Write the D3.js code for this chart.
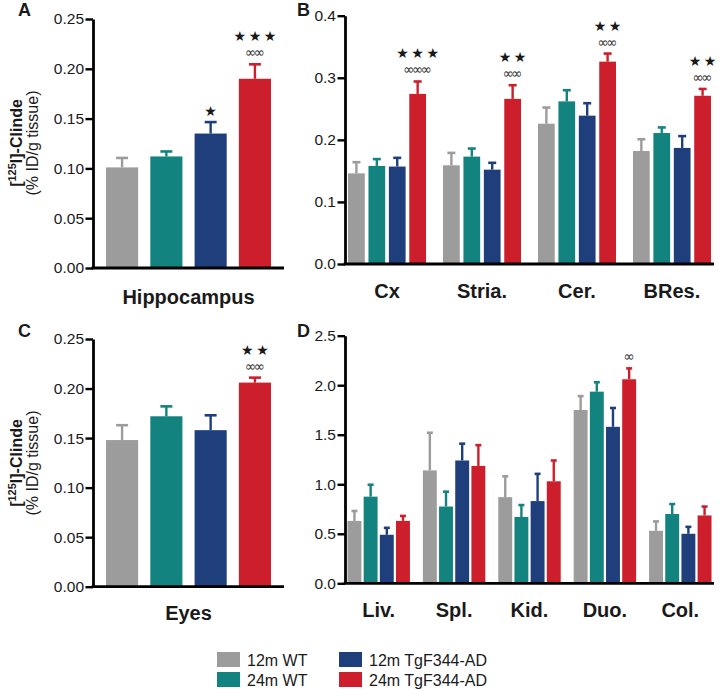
<!DOCTYPE html>
<html><head><meta charset="utf-8">
<script src="https://cdn.jsdelivr.net/npm/d3@7"></script>
<style>
html,body{margin:0;padding:0;background:#fff;}
svg{display:block;font-family:"Liberation Sans",Arial,Helvetica,sans-serif;}
</style></head>
<body>
<svg id="chart" width="719" height="689"></svg>
<script>
// ---------- DATA ----------
const series = ["12m WT", "24m WT", "12m TgF344-AD", "24m TgF344-AD"];
const seriesColors = ["#9c9c9c", "#13837f", "#1f3f7c", "#cc1f2b"];

// Panel A – Hippocampus
const hippoGroups = ["Hippocampus"];
const hippoMean = [[0.101], [0.112], [0.135], [0.190]];
const hippoErr  = [[0.0095], [0.005], [0.0115], [0.0145]];
const hippoTicks = [0, 0.05, 0.10, 0.15, 0.20, 0.25];

// Panel B – brain regions
const brainGroups = ["Cx", "Stria.", "Cer.", "BRes."];
const brainMean = [
  [0.146, 0.159, 0.226, 0.182],
  [0.158, 0.173, 0.262, 0.211],
  [0.157, 0.152, 0.239, 0.187],
  [0.274, 0.266, 0.326, 0.271]
];
const brainErr = [
  [0.018, 0.020, 0.026, 0.019],
  [0.011, 0.013, 0.018, 0.009],
  [0.014, 0.011, 0.020, 0.019],
  [0.020, 0.022, 0.013, 0.011]
];
const brainTicks = [0, 0.1, 0.2, 0.3, 0.4];

// Panel C – Eyes
const eyeGroups = ["Eyes"];
const eyeMean = [[0.148], [0.172], [0.158], [0.206]];
const eyeErr  = [[0.015], [0.010], [0.015], [0.005]];
const eyeTicks = [0, 0.05, 0.10, 0.15, 0.20, 0.25];

// Panel D – peripheral organs
const organGroups = ["Liv.", "Spl.", "Kid.", "Duo.", "Col."];
const organMean = [
  [0.63, 1.14, 0.87, 1.75, 0.53],
  [0.875, 0.775, 0.67, 1.935, 0.70],
  [0.49, 1.24, 0.83, 1.58, 0.50],
  [0.63, 1.185, 1.03, 2.06, 0.685]
];
const organErr = [
  [0.10, 0.38, 0.21, 0.14, 0.095],
  [0.12, 0.15, 0.12, 0.095, 0.10],
  [0.07, 0.17, 0.275, 0.19, 0.07],
  [0.05, 0.21, 0.21, 0.11, 0.09]
];
const organTicks = [0, 0.5, 1.0, 1.5, 2.0, 2.5];

// Significance annotations
const annotPanel  = ["A", "A", "B", "B", "B", "B", "C", "D"];
const annotGroup  = [0, 0, 0, 1, 2, 3, 0, 3];
const annotSeries = [2, 3, 3, 3, 3, 3, 3, 3];
const annotStars  = ["★", "★★★", "★★★", "★★", "★★", "★★", "★★", ""];
const annotInf    = ["", "∞∞", "∞∞∞", "∞∞", "∞∞", "∞∞", "∞∞", "∞"];

// ---------- LAYOUT ----------
const panels = [
  {id:"A", groups:hippoGroups, mean:hippoMean, err:hippoErr, ticks:hippoTicks, fmt:".2f",
   x0:93, x1:284, yBottom:268, yTop:19, yMax:0.25, po:0.079, pi:0, ipi:0.275, capW:12,
   letterX:18, letterY:16, labelY:304, ylabel:true, yLabelC:143},
  {id:"B", groups:brainGroups, mean:brainMean, err:brainErr, ticks:brainTicks, fmt:".1f",
   x0:345, x1:714, yBottom:264, yTop:15.7, yMax:0.4, po:0.032, pi:0.179, ipi:0.18, capW:8,
   letterX:297, letterY:16, labelY:298, ylabel:false},
  {id:"C", groups:eyeGroups, mean:eyeMean, err:eyeErr, ticks:eyeTicks, fmt:".2f",
   x0:93, x1:284, yBottom:586.7, yTop:339, yMax:0.25, po:0.079, pi:0, ipi:0.275, capW:12,
   letterX:18, letterY:337, labelY:620, ylabel:true, yLabelC:463},
  {id:"D", groups:organGroups, mean:organMean, err:organErr, ticks:organTicks, fmt:".1f",
   x0:345, x1:714, yBottom:583.3, yTop:335.7, yMax:2.5, po:0.033, pi:0.172, ipi:0.14, capW:6,
   letterX:297, letterY:337, labelY:617, ylabel:false}
];

const svg = d3.select("#chart");

panels.forEach(p => {
  const g = svg.append("g");
  const y = d3.scaleLinear().domain([0, p.yMax]).range([p.yBottom, p.yTop]);
  const xo = d3.scaleBand().domain(p.groups).range([p.x0, p.x1])
    .paddingInner(p.pi).paddingOuter(p.po);
  const xi = d3.scaleBand().domain(series).range([0, xo.bandwidth()])
    .paddingInner(p.ipi).paddingOuter(0);

  // bars + error bars
  series.forEach((s, si) => {
    p.groups.forEach((grp, gi) => {
      const v = p.mean[si][gi], e = p.err[si][gi];
      const bx = xo(grp) + xi(s);
      const cx = bx + xi.bandwidth() / 2;
      g.append("line").attr("x1", cx).attr("x2", cx)
        .attr("y1", y(v)).attr("y2", y(v + e))
        .attr("stroke", seriesColors[si]).attr("stroke-width", 2.4);
      g.append("line").attr("x1", cx - p.capW / 2).attr("x2", cx + p.capW / 2)
        .attr("y1", y(v + e)).attr("y2", y(v + e))
        .attr("stroke", seriesColors[si]).attr("stroke-width", 2.6);
      g.append("rect").attr("x", bx).attr("width", xi.bandwidth())
        .attr("y", y(v)).attr("height", y(0) - y(v))
        .attr("fill", seriesColors[si]);
    });
  });

  // y axis
  const ax = g.append("g").attr("transform", `translate(${p.x0},0)`)
    .call(d3.axisLeft(y).tickValues(p.ticks).tickFormat(d3.format(p.fmt))
      .tickSize(7.5).tickPadding(1.5).tickSizeOuter(0));
  ax.select(".domain").attr("stroke", "#000").attr("stroke-width", 2.8);
  ax.selectAll(".tick line").attr("stroke", "#000").attr("stroke-width", 2.4);
  ax.selectAll(".tick text").attr("font-size", 15.5)
    .attr("font-family", "Liberation Sans, Arial, sans-serif").attr("fill", "#1a1a1a");

  // x axis line
  g.append("line").attr("x1", p.x0 - 1.4).attr("x2", p.x1)
    .attr("y1", y(0)).attr("y2", y(0))
    .attr("stroke", "#000").attr("stroke-width", 2.8);

  // group labels
  p.groups.forEach(grp => {
    g.append("text").attr("x", xo(grp) + xo.bandwidth() / 2).attr("y", p.labelY)
      .attr("text-anchor", "middle").attr("font-weight", "bold")
      .attr("font-size", 20).attr("fill", "#1a1a1a").text(grp);
  });

  // panel letter
  g.append("text").attr("x", p.letterX).attr("y", p.letterY)
    .attr("font-weight", "bold").attr("font-size", 18).attr("fill", "#1a1a1a").text(p.id);

  // y label
  if (p.ylabel) {
    const t1 = g.append("text")
      .attr("transform", `translate(22,${p.yLabelC}) rotate(-90)`)
      .attr("text-anchor", "middle").attr("font-weight", "bold")
      .attr("font-size", 16).attr("fill", "#1a1a1a");
    t1.append("tspan").text("[");
    t1.append("tspan").attr("font-size", 11).attr("dy", -6).text("125");
    t1.append("tspan").attr("dy", 6).text("I]-Clinde");
    g.append("text")
      .attr("transform", `translate(38,${p.yLabelC}) rotate(-90)`)
      .attr("text-anchor", "middle").attr("font-size", 16).attr("fill", "#1a1a1a")
      .text("(% ID/g tissue)");
  }

  // annotations
  annotPanel.forEach((ap, k) => {
    if (ap !== p.id) return;
    const grp = p.groups[annotGroup[k]], s = series[annotSeries[k]];
    const si = annotSeries[k], gi = annotGroup[k];
    const cx = xo(grp) + xi(s) + xi.bandwidth() / 2;
    const top = y(p.mean[si][gi] + p.err[si][gi]);
    let base = top - 7;
    if (annotInf[k]) {
      g.append("text").attr("x", cx - 1.25).attr("y", base)
        .attr("text-anchor", "middle").attr("font-family", "DejaVu Sans")
        .attr("font-size", 13.5).attr("letter-spacing", -2.5)
        .attr("fill", "#333").text(annotInf[k]);
      base -= 16;
    } else {
      base += 1;
    }
    if (annotStars[k]) {
      g.append("text").attr("x", cx + 1.25).attr("y", base)
        .attr("text-anchor", "middle").attr("font-family", "DejaVu Sans")
        .attr("font-size", 14).attr("letter-spacing", 2.5).attr("fill", "#1a1a1a")
        .text(annotStars[k]);
    }
  });
});

// ---------- LEGEND ----------
const legendX = [217, 339];
const legendY = [652, 672];
const lg = svg.append("g");
series.forEach((s, i) => {
  const col = i === 0 || i === 1 ? 0 : 1;
  const row = i % 2;
  lg.append("rect").attr("x", legendX[col]).attr("y", legendY[row])
    .attr("width", 23).attr("height", 15).attr("fill", seriesColors[i]);
  lg.append("text").attr("x", legendX[col] + 30).attr("y", legendY[row] + 14)
    .attr("font-size", 16).attr("fill", "#1a1a1a").text(s);
});
</script>
</body></html>
